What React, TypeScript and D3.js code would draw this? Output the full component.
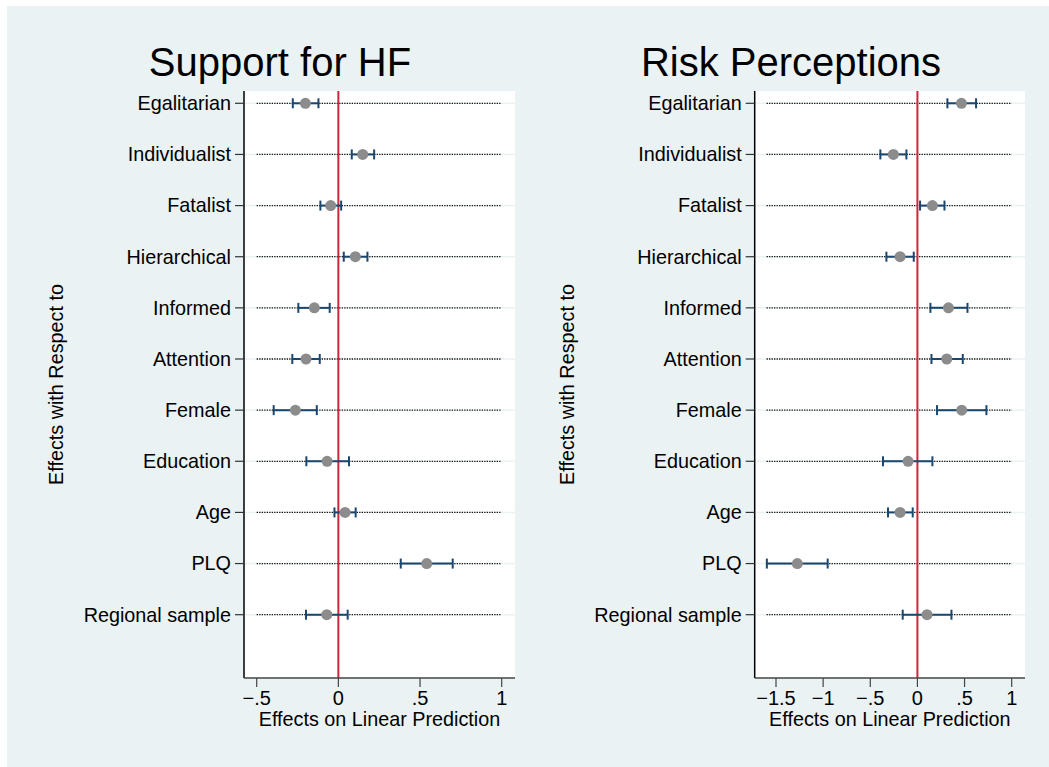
import React from "react";
import * as d3 from "d3";

const categories = [
  "Egalitarian", "Individualist", "Fatalist", "Hierarchical", "Informed",
  "Attention", "Female", "Education", "Age", "PLQ", "Regional sample",
];

const hfEst = [-0.202, 0.149, -0.047, 0.104, -0.147, -0.198, -0.263, -0.069, 0.041, 0.541, -0.071];
const hfLo = [-0.279, 0.082, -0.110, 0.033, -0.245, -0.282, -0.396, -0.196, -0.024, 0.382, -0.198];
const hfHi = [-0.122, 0.219, 0.017, 0.178, -0.053, -0.114, -0.132, 0.065, 0.106, 0.700, 0.057];

const rpEst = [0.467, -0.255, 0.159, -0.184, 0.329, 0.311, 0.470, -0.099, -0.184, -1.274, 0.102];
const rpLo = [0.318, -0.393, 0.028, -0.329, 0.138, 0.149, 0.208, -0.365, -0.312, -1.597, -0.156];
const rpHi = [0.622, -0.117, 0.287, -0.039, 0.531, 0.481, 0.732, 0.159, -0.050, -0.952, 0.361];

const hfTicks = [-0.5, 0, 0.5, 1];
const rpTicks = [-1.5, -1, -0.5, 0, 0.5, 1];
const hfDotRange = [-0.5, 1];
const rpDotRange = [-1.6, 1];

const titles = ["Support for HF", "Risk Perceptions"];
const xTitle = "Effects on Linear Prediction";
const yTitle = "Effects with Respect to";

const FONT = "'Liberation Sans', Arial, Helvetica, sans-serif";
const BG = "#eaf2f3";
const NAVY = "#1a476f";

function fmt(v: number): string {
  if (v === 0) return "0";
  const s = String(Math.abs(v)).replace(/^0\./, ".");
  return (v < 0 ? "\u2212" : "") + s;
}

type PanelProps = {
  title: string;
  titleX: number;
  plotLeft: number;
  plotRight: number;
  xDomain: [number, number];
  xRange: [number, number];
  ticks: number[];
  dotRange: number[];
  est: number[];
  lo: number[];
  hi: number[];
  yTitleX: number;
};

function Panel(p: PanelProps) {
  const top = 91;
  const bottom = 678;
  const x = d3.scaleLinear().domain(p.xDomain).range(p.xRange);
  const y = d3.scalePoint<string>().domain(categories).range([103.3, 614.7]);
  const capH = 5;
  return (
    <g>
      <text x={p.titleX} y={76} fontSize={40} textAnchor="middle" fontFamily={FONT} fill="#000">
        {p.title}
      </text>
      <rect x={p.plotLeft} y={top} width={p.plotRight - p.plotLeft} height={bottom - top} fill="#fff" />
      {categories.map((c) => (
        <line key={"g" + c} x1={p.plotLeft} x2={p.plotRight} y1={y(c)} y2={y(c)} stroke={BG} strokeWidth={1.5} />
      ))}
      {categories.map((c) => (
        <line
          key={"d" + c}
          x1={x(p.dotRange[0])}
          x2={x(p.dotRange[1])}
          y1={y(c)}
          y2={y(c)}
          stroke="#111"
          strokeWidth={1.3}
          strokeDasharray="1.3 1.2"
        />
      ))}
      <line x1={x(0)} x2={x(0)} y1={top} y2={bottom} stroke="#d0243a" strokeWidth={2} />
      {categories.map((c, i) => {
        const yy = y(c) as number;
        return (
          <g key={"e" + c}>
            <line x1={x(p.lo[i])} x2={x(p.hi[i])} y1={yy} y2={yy} stroke={NAVY} strokeWidth={2} />
            <line x1={x(p.lo[i])} x2={x(p.lo[i])} y1={yy - capH} y2={yy + capH} stroke={NAVY} strokeWidth={2} />
            <line x1={x(p.hi[i])} x2={x(p.hi[i])} y1={yy - capH} y2={yy + capH} stroke={NAVY} strokeWidth={2} />
            <circle cx={x(p.est[i])} cy={yy} r={5.5} fill="#8c8c8c" />
          </g>
        );
      })}
      <line x1={p.plotLeft} x2={p.plotLeft} y1={top} y2={bottom} stroke="#000" strokeWidth={1.5} />
      {categories.map((c) => (
        <g key={"t" + c}>
          <line x1={p.plotLeft - 9} x2={p.plotLeft} y1={y(c)} y2={y(c)} stroke="#333" strokeWidth={1.2} />
          <text
            x={p.plotLeft - 13}
            y={(y(c) as number) + 6.8}
            fontSize={19.8}
            textAnchor="end"
            fontFamily={FONT}
            fill="#000"
          >
            {c}
          </text>
        </g>
      ))}
      <text
        transform={`translate(${p.yTitleX},${(top + bottom) / 2}) rotate(-90)`}
        fontSize={19.8}
        textAnchor="middle"
        fontFamily={FONT}
        fill="#000"
      >
        {yTitle}
      </text>
      <line x1={p.plotLeft} x2={p.plotRight} y1={bottom} y2={bottom} stroke="#444" strokeWidth={1.5} />
      {p.ticks.map((t) => (
        <g key={"x" + t}>
          <line x1={x(t)} x2={x(t)} y1={bottom} y2={bottom + 9} stroke="#444" strokeWidth={1.2} />
          <text x={x(t)} y={705} fontSize={20} textAnchor="middle" fontFamily={FONT} fill="#000">
            {fmt(t)}
          </text>
        </g>
      ))}
      <text
        x={(p.plotLeft + p.plotRight) / 2}
        y={726}
        fontSize={19.8}
        textAnchor="middle"
        fontFamily={FONT}
        fill="#000"
      >
        {xTitle}
      </text>
    </g>
  );
}

export default function App() {
  return (
    <svg
      width={1049}
      height={767}
      style={{ position: "absolute", left: 0, top: 0, display: "block" }}
    >
      <rect x={0} y={0} width={1049} height={767} fill="#fff" />
      <rect x={7} y={6} width={1042} height={761} fill={BG} />
      <Panel
        title={titles[0]}
        titleX={280}
        plotLeft={244}
        plotRight={515}
        xDomain={[-0.5, 1]}
        xRange={[256.7, 501.7]}
        ticks={hfTicks}
        dotRange={hfDotRange}
        est={hfEst}
        lo={hfLo}
        hi={hfHi}
        yTitleX={63}
      />
      <Panel
        title={titles[1]}
        titleX={791}
        plotLeft={754.7}
        plotRight={1025}
        xDomain={[-1.5, 1]}
        xRange={[776, 1011.7]}
        ticks={rpTicks}
        dotRange={rpDotRange}
        est={rpEst}
        lo={rpLo}
        hi={rpHi}
        yTitleX={574}
      />
    </svg>
  );
}
